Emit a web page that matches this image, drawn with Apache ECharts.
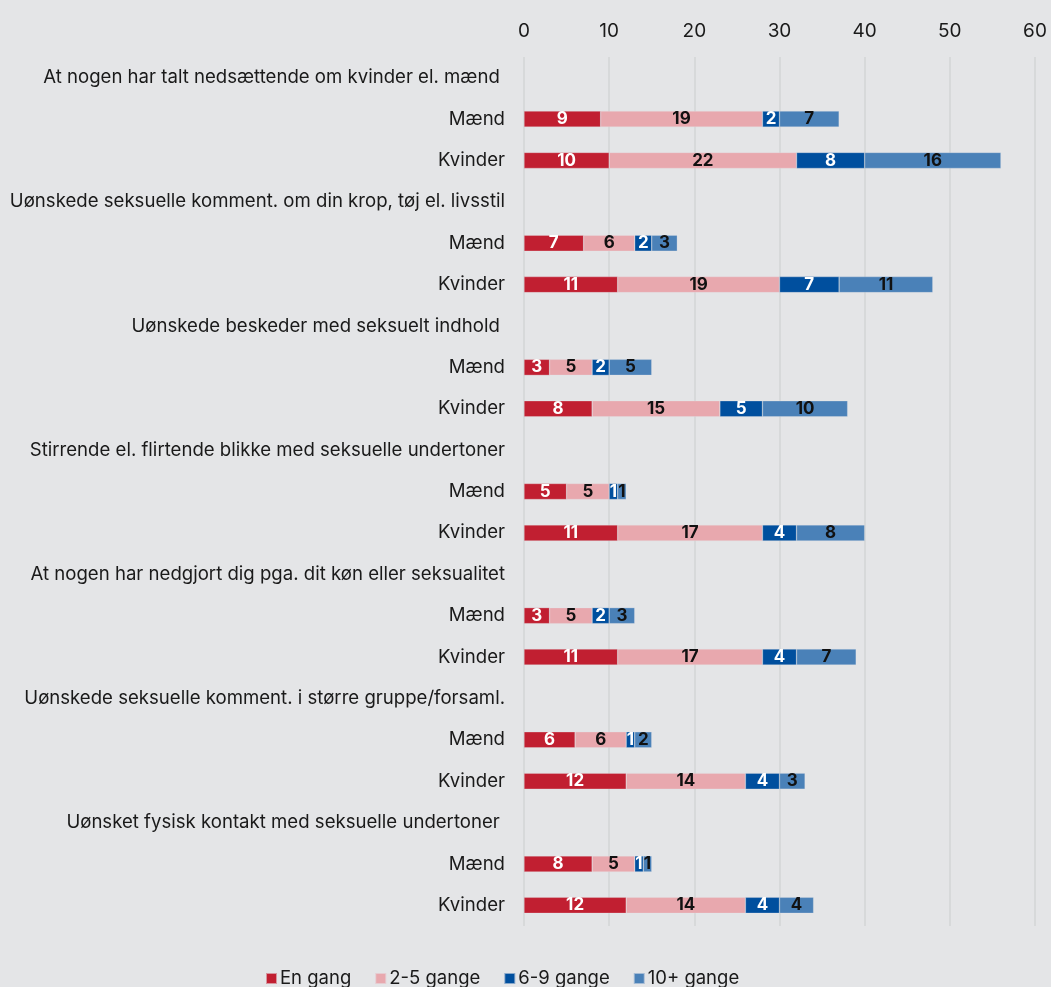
<!DOCTYPE html>
<html>
<head>
<meta charset="utf-8">
<script src="https://cdn.jsdelivr.net/npm/echarts@6/dist/echarts.min.js"></script>
<style>
html,body{margin:0;padding:0;background:#e4e5e7;}
#c{width:1051px;height:987px;}
</style>
</head>
<body>
<div id="c"></div>
<script>
const categories = [
  "At nogen har talt nedsættende om kvinder el. mænd ",
  "Mænd", "Kvinder",
  "Uønskede seksuelle komment. om din krop, tøj el. livsstil",
  "Mænd", "Kvinder",
  "Uønskede beskeder med seksuelt indhold ",
  "Mænd", "Kvinder",
  "Stirrende el. flirtende blikke med seksuelle undertoner",
  "Mænd", "Kvinder",
  "At nogen har nedgjort dig pga. dit køn eller seksualitet",
  "Mænd", "Kvinder",
  "Uønskede seksuelle komment. i større gruppe/forsaml.",
  "Mænd", "Kvinder",
  "Uønsket fysisk kontakt med seksuelle undertoner ",
  "Mænd", "Kvinder"
];
const seriesNames = ["En gang", "2-5 gange", "6-9 gange", "10+ gange"];
const enGang   = [null, 9, 10, null, 7, 11, null, 3, 8, null, 5, 11, null, 3, 11, null, 6, 12, null, 8, 12];
const toFem    = [null, 19, 22, null, 6, 19, null, 5, 15, null, 5, 17, null, 5, 17, null, 6, 14, null, 5, 14];
const seksNi   = [null, 2, 8, null, 2, 7, null, 2, 5, null, 1, 4, null, 2, 4, null, 1, 4, null, 1, 4];
const tiPlus   = [null, 7, 16, null, 3, 11, null, 5, 10, null, 1, 8, null, 3, 7, null, 2, 3, null, 1, 4];
const tickValues = [0, 10, 20, 30, 40, 50, 60];

const colors = ["#c11f31", "#e8a8ae", "#004f9e", "#4a81b8"];
const labelColors = ["#ffffff", "#111111", "#ffffff", "#111111"];
const values = [enGang, toFem, seksNi, tiPlus];
const catKeys = categories.map((c, i) => String(i));

const chart = echarts.init(document.getElementById('c'));
chart.setOption({
  backgroundColor: '#e4e5e7',
  textStyle: { fontFamily: 'Inter' },
  animation: false,
  grid: { left: 524, right: 16, top: 57, bottom: 61 },
  xAxis: {
    type: 'value', position: 'top',
    min: tickValues[0], max: tickValues[tickValues.length - 1], interval: 10,
    axisLine: { show: false }, axisTick: { show: false },
    axisLabel: { fontSize: 19, color: '#1a1a1a', margin: 16, fontFamily: 'Inter' },
    splitLine: { show: true, lineStyle: { color: '#d3d4d6', width: 1.5 } }
  },
  yAxis: {
    type: 'category', inverse: true, data: catKeys,
    axisLine: { show: false }, axisTick: { show: false },
    axisLabel: { fontSize: 18.6, color: '#1a1a1a', margin: 19, fontFamily: 'Inter',
      formatter: v => categories[+v] }
  },
  legend: {
    top: 969, left: 265, padding: 0,
    itemWidth: 11, itemHeight: 11, itemGap: 23,
    icon: 'rect',
    textStyle: { fontSize: 18.5, color: '#1a1a1a', fontFamily: 'Inter', padding: [0, 0, 0, -2] },
    data: seriesNames
  },
  series: seriesNames.map((n, i) => ({
    name: n, type: 'bar', stack: 'total', barWidth: 16,
    itemStyle: { color: colors[i], borderColor: 'rgba(228,229,231,0.6)', borderWidth: 0.5 },
    label: {
      show: true, position: 'inside', color: labelColors[i],
      fontSize: 17, fontWeight: 'bold', fontFamily: 'Inter',
      formatter: p => (p.value ? p.value : '')
    },
    data: values[i]
  }))
});
</script>
</body>
</html>
